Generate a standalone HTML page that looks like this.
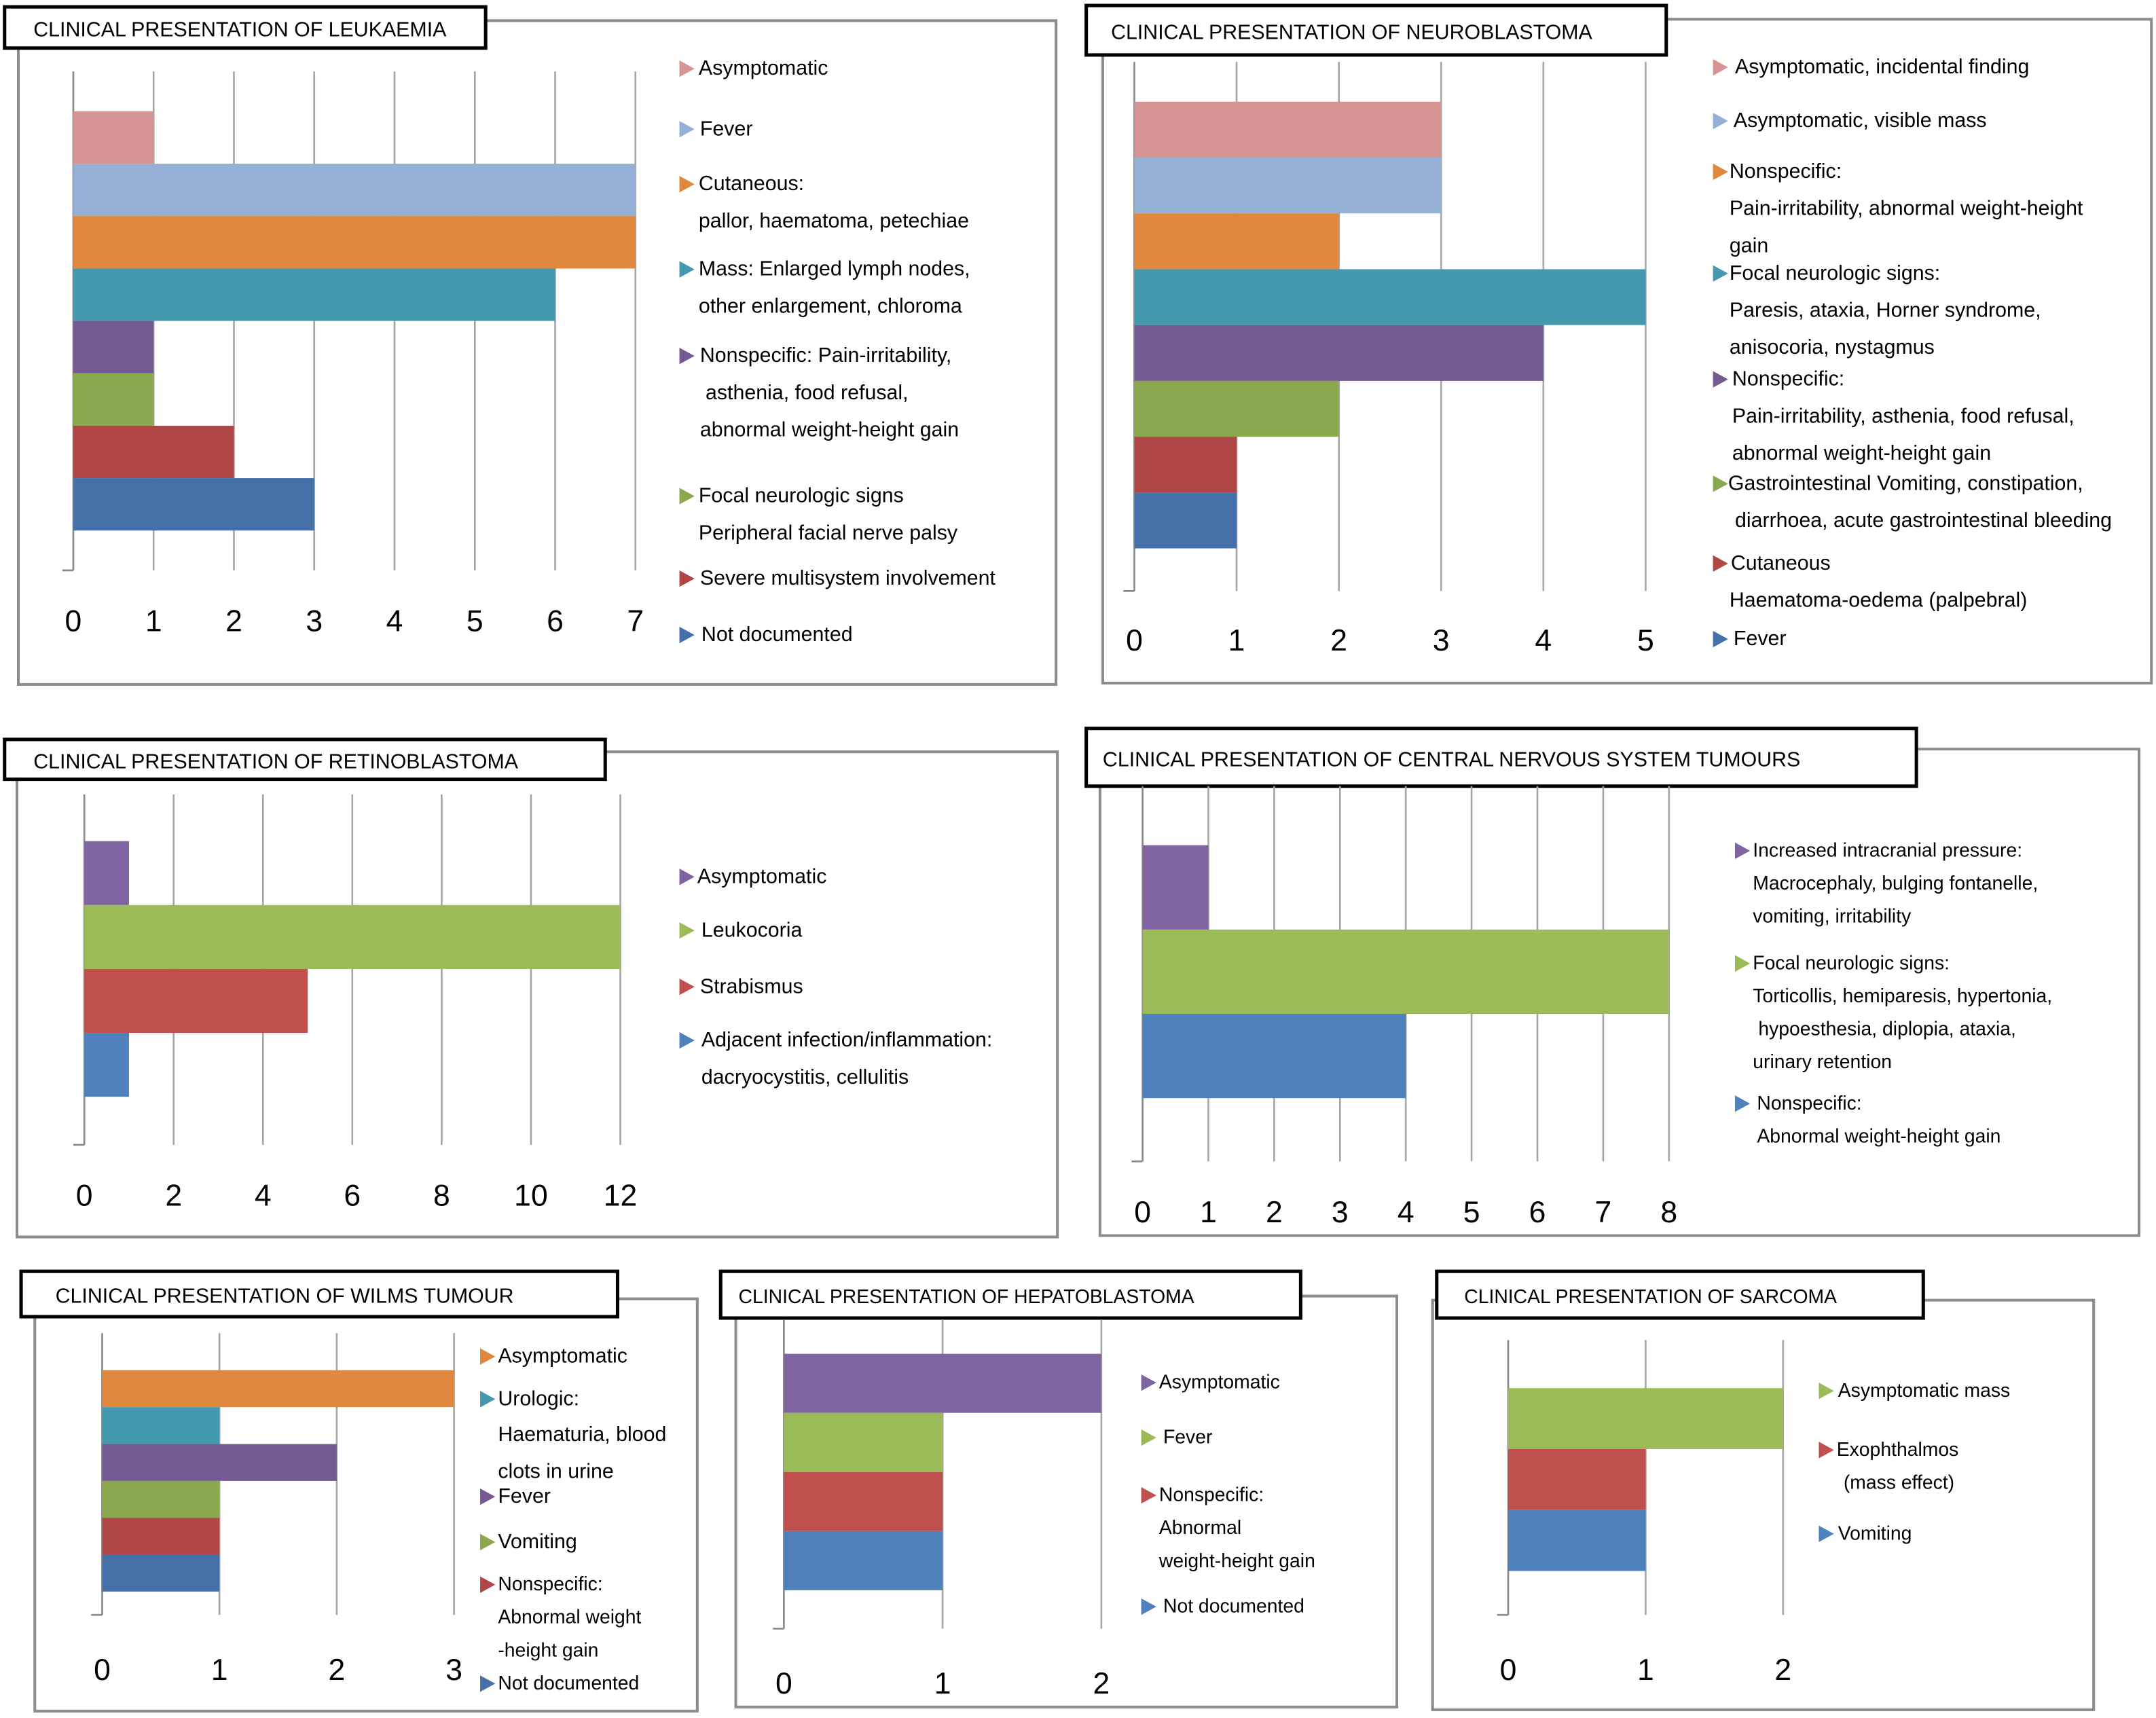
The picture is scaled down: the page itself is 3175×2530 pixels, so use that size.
<!DOCTYPE html>
<html><head><meta charset="utf-8"><style>
html,body{margin:0;padding:0;background:#fff;}
svg{display:block;font-family:"Liberation Sans",Arial,sans-serif;}
</style></head><body>
<svg id="root" width="3175" height="2530" viewBox="0 0 1568 1250" xmlns="http://www.w3.org/2000/svg"></svg>
<script>
const C={pink:'#D69594',lblue:'#95B0D6',orange:'#E0883E',teal:'#4499AE',purple:'#755A91',green:'#8AA84D',red:'#B04645',blue:'#4571A8',
 purple2:'#8064A2',green2:'#9BBB59',red2:'#C0504D',blue2:'#4F81BD'};

// ---- data arrays ----
const leukCats=['Asymptomatic','Fever','Cutaneous','Mass','Nonspecific','Focal neurologic','Severe multisystem','Not documented'];
const leukVals=[1,7,7,6,1,1,2,3];
const leukTicks=[0,1,2,3,4,5,6,7];
const neuroCats=['Incidental','Visible mass','Nonspecific','Focal neurologic','Nonspecific pain','Gastrointestinal','Cutaneous','Fever'];
const neuroVals=[3,3,2,5,4,2,1,1];
const neuroTicks=[0,1,2,3,4,5];
const retinoCats=['Asymptomatic','Leukocoria','Strabismus','Adjacent infection'];
const retinoVals=[1,12,5,1];
const retinoTicks=[0,2,4,6,8,10,12];
const cnsCats=['Increased intracranial pressure','Focal neurologic signs','Nonspecific'];
const cnsVals=[1,8,4];
const cnsTicks=[0,1,2,3,4,5,6,7,8];
const wilmsCats=['Asymptomatic','Urologic','Fever','Vomiting','Nonspecific','Not documented'];
const wilmsVals=[3,1,2,1,1,1];
const wilmsTicks=[0,1,2,3];
const hepCats=['Asymptomatic','Fever','Nonspecific','Not documented'];
const hepVals=[2,1,1,1];
const hepTicks=[0,1,2];
const sarcCats=['Asymptomatic mass','Exophthalmos','Vomiting'];
const sarcVals=[2,1,1];
const sarcTicks=[0,1,2];

const NS='http://www.w3.org/2000/svg';
const root=document.getElementById('root');
function el(tag,attrs,parent,txt){const e=document.createElementNS(NS,tag);for(const k in attrs)e.setAttribute(k,attrs[k]);if(txt!==undefined)e.textContent=txt;(parent||root).appendChild(e);return e;}

function panel(p){
 const g=el('g',{});
 
 
 const box=el('rect',{x:p.box[0],y:p.box[1],width:p.box[2]-p.box[0],height:p.box[3]-p.box[1],fill:'none',stroke:'#8c8c8c','stroke-width':2},g);
 
 
 const tb=el('rect',{x:p.title[0],y:p.title[1],width:p.title[2]-p.title[0],height:p.title[3]-p.title[1],fill:'#fff',stroke:'#000','stroke-width':2.5},g);
 
 
 const tt=el('text',{x:p.title[0]+p.tpad,y:(p.title[1]+p.title[3])/2+2.5,'font-size':p.tfs,'dominant-baseline':'middle',fill:'#000'},g,p.titleText);
 
 
 const maxT=p.ticks[p.ticks.length-1];
 const xs=v=>p.x0+(v/maxT)*(p.x1-p.x0);
 p.ticks.forEach(t=>{
  const l=el('line',{x1:xs(t),x2:xs(t),y1:p.gy0,y2:p.gy1,stroke:t===0?'#888':'#a6a6a6','stroke-width':1.3},g);
  
  
  const tl=el('text',{x:xs(t),y:p.ty+1.5,'font-size':p.tkfs,'text-anchor':'middle','dominant-baseline':'middle',fill:'#000'},g,String(t));
  
  
 });
 el('line',{x1:p.x0-8,x2:p.x0,y1:p.gy1,y2:p.gy1,stroke:'#888','stroke-width':1.3},g);
 const bh=(p.by1-p.by0)/p.vals.length;
 p.vals.forEach((v,i)=>{
  const r=el('rect',{x:p.x0,y:p.by0+i*bh,width:xs(v)-p.x0,height:bh,fill:p.colors[i]},g);
  
  
 });
 p.legend.forEach(it=>{
  const lg=el('g',{},g);
  
  
  const y=it.lines[0][0]+1, mx=p.lx;
  el('polygon',{points:`${mx},${y-6} ${mx+11},${y} ${mx},${y+6}`,fill:it.c},lg);
  it.lines.forEach((ln,j)=>{
   el('text',{x:p.ltx+(ln[2]||0),y:ln[0]+1.5,'font-size':it.fs||p.lfs,'dominant-baseline':'middle',fill:'#000'},lg,ln[1]);
  });
 });
}

panel({name:'leukaemia-chart',box:[13,15,768,498],title:[3,5,353,35],tpad:21,tfs:15,titleText:'CLINICAL PRESENTATION OF LEUKAEMIA',
 x0:53,x1:462,ticks:leukTicks,gy0:52,gy1:415,ty:452,tkfs:22,by0:81,by1:386,vals:leukVals,cats:leukCats,
 colors:[C.pink,C.lblue,C.orange,C.teal,C.purple,C.green,C.red,C.blue],lx:494,ltx:508,lfs:15,
 legend:[{c:C.pink,lines:[[49,'Asymptomatic']]},{c:C.lblue,lines:[[93,'Fever',1]]},
 {c:C.orange,lines:[[133,'Cutaneous:'],[160,'pallor, haematoma, petechiae']]},
 {c:C.teal,lines:[[195,'Mass: Enlarged lymph nodes,'],[222,'other enlargement, chloroma']]},
 {c:C.purple,lines:[[258,'Nonspecific: Pain-irritability,',1],[285,'asthenia, food refusal,',5],[312,'abnormal weight-height gain',1]]},
 {c:C.green,lines:[[360,'Focal neurologic signs'],[387,'Peripheral facial nerve palsy']]},
 {c:C.red,lines:[[420,'Severe multisystem involvement',1]]},{c:C.blue,lines:[[461,'Not documented',2]]}]});

panel({name:'neuroblastoma-chart',box:[802,14,1565,497],title:[790,4,1212,40],tpad:18,tfs:15,titleText:'CLINICAL PRESENTATION OF NEUROBLASTOMA',
 x0:825,x1:1197,ticks:neuroTicks,gy0:45,gy1:430,ty:466,tkfs:22,by0:74,by1:399,vals:neuroVals,cats:neuroCats,
 colors:[C.pink,C.lblue,C.orange,C.teal,C.purple,C.green,C.red,C.blue],lx:1246,ltx:1258,lfs:15,
 legend:[{c:C.pink,lines:[[48,'Asymptomatic, incidental finding',4]]},{c:C.lblue,lines:[[87,'Asymptomatic, visible mass',3]]},
 {c:C.orange,lines:[[124,'Nonspecific:'],[151,'Pain-irritability, abnormal weight-height'],[178,'gain']]},
 {c:C.teal,lines:[[198,'Focal neurologic signs:'],[225,'Paresis, ataxia, Horner syndrome,'],[252,'anisocoria, nystagmus']]},
 {c:C.purple,lines:[[275,'Nonspecific:',2],[302,'Pain-irritability, asthenia, food refusal,',2],[329,'abnormal weight-height gain',2]]},
 {c:C.green,lines:[[351,'Gastrointestinal Vomiting, constipation,',-1],[378,'diarrhoea, acute gastrointestinal bleeding',4]]},
 {c:C.red,lines:[[409,'Cutaneous',1],[436,'Haematoma-oedema (palpebral)']]},{c:C.blue,lines:[[464,'Fever',3]]}]});

panel({name:'retinoblastoma-chart',box:[12,547,769,900],title:[3,538,440,567],tpad:21,tfs:15,titleText:'CLINICAL PRESENTATION OF RETINOBLASTOMA',
 x0:61,x1:451,ticks:retinoTicks,gy0:578,gy1:833,ty:870,tkfs:22,by0:612,by1:798,vals:retinoVals,cats:retinoCats,
 colors:[C.purple2,C.green2,C.red2,C.blue2],lx:494,ltx:507,lfs:15,
 legend:[{c:C.purple2,lines:[[637,'Asymptomatic']]},{c:C.green2,lines:[[676,'Leukocoria',3]]},{c:C.red2,lines:[[717,'Strabismus',2]]},
 {c:C.blue2,lines:[[756,'Adjacent infection/inflammation:',3],[783,'dacryocystitis, cellulitis',3]]}]});

panel({name:'cns-tumours-chart',box:[800,545,1556,899],title:[790,530,1394,572],tpad:12,tfs:15,titleText:'CLINICAL PRESENTATION OF CENTRAL NERVOUS SYSTEM TUMOURS',
 x0:831,x1:1214,ticks:cnsTicks,gy0:572,gy1:845,ty:882,tkfs:22,by0:615,by1:799,vals:cnsVals,cats:cnsCats,
 colors:[C.purple2,C.green2,C.blue2],lx:1262,ltx:1275,lfs:14,
 legend:[{c:C.purple2,lines:[[618,'Increased intracranial pressure:'],[642,'Macrocephaly, bulging fontanelle,'],[666,'vomiting, irritability']]},
 {c:C.green2,lines:[[700,'Focal neurologic signs:'],[724,'Torticollis, hemiparesis, hypertonia,'],[748,'hypoesthesia, diplopia, ataxia,',4],[772,'urinary retention']]},
 {c:C.blue2,lines:[[802,'Nonspecific:',3],[826,'Abnormal weight-height gain',3]]}]});

panel({name:'wilms-tumour-chart',box:[25,945,507,1245],title:[15,925,449,958],tpad:25,tfs:15,titleText:'CLINICAL PRESENTATION OF WILMS TUMOUR',
 x0:74,x1:330,ticks:wilmsTicks,gy0:970,gy1:1175,ty:1215,tkfs:22,by0:997,by1:1158,vals:wilmsVals,cats:wilmsCats,
 colors:[C.orange,C.teal,C.purple,C.green,C.red,C.blue],lx:349,ltx:362,lfs:15,
 legend:[{c:C.orange,lines:[[986,'Asymptomatic']]},{c:C.teal,lines:[[1017,'Urologic:'],[1043,'Haematuria, blood'],[1070,'clots in urine']]},
 {c:C.purple,lines:[[1088,'Fever']]},{c:C.green,lines:[[1121,'Vomiting']]},
 {c:C.red,fs:14,lines:[[1152,'Nonspecific:'],[1176,'Abnormal weight'],[1200,'-height gain']]},{c:C.blue,fs:14,lines:[[1224,'Not documented']]}]});

panel({name:'hepatoblastoma-chart',box:[535,943,1016,1242],title:[524,925,946,959],tpad:13,tfs:14,titleText:'CLINICAL PRESENTATION OF HEPATOBLASTOMA',
 x0:570,x1:801,ticks:hepTicks,gy0:960,gy1:1185,ty:1225,tkfs:22,by0:985,by1:1157,vals:hepVals,cats:hepCats,
 colors:[C.purple2,C.green2,C.red2,C.blue2],lx:830,ltx:843,lfs:14,
 legend:[{c:C.purple2,lines:[[1005,'Asymptomatic']]},{c:C.green2,lines:[[1045,'Fever',3]]},
 {c:C.red2,lines:[[1087,'Nonspecific:'],[1111,'Abnormal'],[1135,'weight-height gain']]},{c:C.blue2,lines:[[1168,'Not documented',3]]}]});

panel({name:'sarcoma-chart',box:[1042,946,1523,1244],title:[1045,925,1399,959],tpad:20,tfs:14,titleText:'CLINICAL PRESENTATION OF SARCOMA',
 x0:1097,x1:1297,ticks:sarcTicks,gy0:975,gy1:1175,ty:1215,tkfs:22,by0:1010,by1:1143,vals:sarcVals,cats:sarcCats,
 colors:[C.green2,C.red2,C.blue2],lx:1323,ltx:1337,lfs:14,
 legend:[{c:C.green2,lines:[[1011,'Asymptomatic mass']]},{c:C.red2,lines:[[1054,'Exophthalmos',-1],[1078,'(mass effect)',4]]},{c:C.blue2,lines:[[1115,'Vomiting']]}]});
</script>
</body></html>
